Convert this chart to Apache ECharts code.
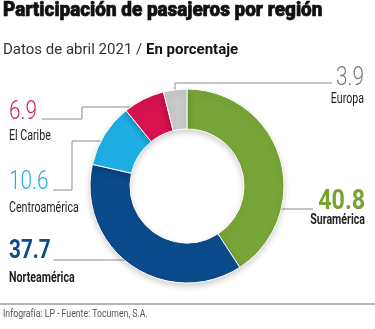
<!DOCTYPE html>
<html>
<head>
<meta charset="utf-8">
<script src="https://cdn.jsdelivr.net/npm/echarts@6/dist/echarts.min.js"></script>
<style>
html, body { margin: 0; padding: 0; background: #fff; }
#chart { width: 375px; height: 329px; }
</style>
</head>
<body>
<div id="chart"></div>
<script>
// datos
const regions = ['Suramérica', 'Norteamérica', 'Centroamérica', 'El Caribe', 'Europa'];
const shares = [40.8, 37.7, 10.6, 6.9, 3.9];

const sliceColors = ['#78a537', '#0b4b8b', '#1faee4', '#d6124f', '#c8c8c8'];
const numColors = ['#76a232', '#0d4a8a', '#27aee4', '#d31f4f', '#7a7a7a'];

// posicion de etiquetas: [x, yNumero, yNombre, align, negrita]
const labelPos = [
  [365, 202, 220, 'right', true],
  [9, 252, 278.5, 'left', true],
  [9, 182.5, 208.5, 'left', false],
  [9, 112.5, 136.5, 'left', false],
  [364, 78.5, 99.5, 'right', false]
];
const leaderLines = [
  [[262, 209], [313, 209]],
  [[140, 260], [53, 260]],
  [[113, 141], [72, 141], [72, 190], [53, 190]],
  [[145, 107], [82, 107], [82, 119], [42, 119]],
  [[175, 97], [175, 83], [332, 83]]
];

const chart = echarts.init(document.getElementById('chart'));

const FONT = 'Roboto, "Noto Sans", sans-serif';
const graphics = [];

// titulo
graphics.push({
  type: 'text', x: 3, y: 11, scaleX: 0.9,
  style: {
    text: 'Participación de pasajeros por región', fill: '#111',
    stroke: '#111', lineWidth: 0.7,
    font: '900 21px ' + FONT, textVerticalAlign: 'middle'
  }
});
graphics.push({
  type: 'text', x: 3, y: 50.5,
  style: {
    text: '{a|Datos de abril 2021 / }{b|En porcentaje}',
    textVerticalAlign: 'middle',
    rich: {
      a: { fill: '#333', font: '15px ' + FONT },
      b: { fill: '#111', font: 'bold 15px ' + FONT }
    }
  }
});

// etiquetas
regions.forEach((name, i) => {
  const p = labelPos[i];
  const big = i === 0;
  graphics.push({
    type: 'text', x: p[0], y: p[1], scaleX: 0.83,
    style: {
      text: shares[i].toFixed(1), fill: numColors[i],
      font: (p[4] ? 'bold ' : '300 ') + (big ? 28 : 25) + 'px ' + FONT,
      textAlign: p[3], textVerticalAlign: 'middle'
    }
  });
  graphics.push({
    type: 'text', x: p[0], y: p[2], scaleX: 0.76,
    style: {
      text: name, fill: '#222',
      font: (p[4] ? 'bold ' : '') + '14px ' + FONT,
      textAlign: p[3], textVerticalAlign: 'middle'
    }
  });
  graphics.push({
    type: 'polyline', silent: true,
    shape: { points: leaderLines[i] },
    style: { stroke: '#8c8c8c', lineWidth: 1, fill: null }
  });
});

// pie de pagina
graphics.push({
  type: 'rect', shape: { x: 0, y: 303, width: 375, height: 2 },
  style: { fill: '#b4b4b4' }
});
graphics.push({
  type: 'text', x: 3, y: 314, scaleX: 0.87,
  style: { text: 'Infografía: LP - Fuente: Tocumen, S.A.', fill: '#555', font: '10px ' + FONT, textVerticalAlign: 'middle' }
});

chart.setOption({
  animation: false,
  series: [{
    type: 'pie',
    center: [187, 186],
    radius: [57, 97],
    startAngle: 90,
    clockwise: true,
    silent: true,
    label: { show: false },
    labelLine: { show: false },
    itemStyle: {
      borderColor: '#fff',
      borderWidth: 1,
      shadowBlur: 6,
      shadowOffsetY: 3,
      shadowColor: 'rgba(0,0,0,0.18)'
    },
    data: regions.map((name, i) => ({
      name: name,
      value: shares[i],
      itemStyle: { color: sliceColors[i] }
    }))
  }],
  graphic: graphics
});
</script>
</body>
</html>
